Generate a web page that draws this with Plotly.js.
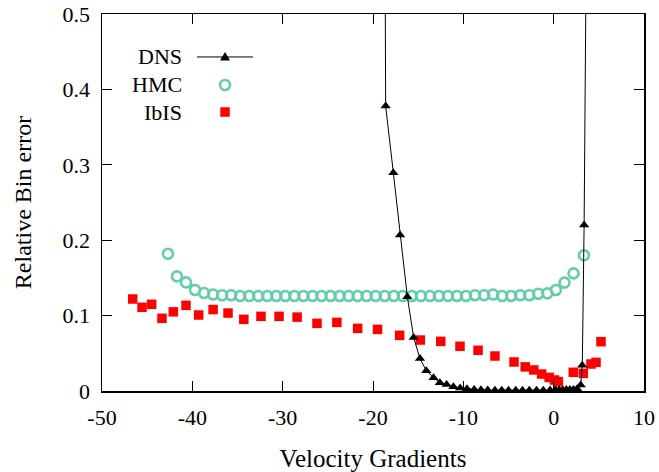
<!DOCTYPE html>
<html>
<head>
<meta charset="utf-8">
<script src="https://cdn.plot.ly/plotly-3.0.1.min.js"></script>
<style>html,body{margin:0;padding:0;background:#fff;}#chart{width:659px;height:472px;}</style>
</head>
<body>
<div id="chart"></div>
<script>
// DNS series
const dnsX = [-19.4, -18.6, -17.75, -17.0, -16.2, -15.5, -14.8, -14.1, -13.3, -12.6, -11.85, -11.1, -10.35, -9.6, -8.8, -8.05, -7.3, -6.5, -5.75, -5.0, -4.2, -3.45, -2.7, -1.9, -1.15, -0.4, 0.2, 0.6, 1.0, 1.4, 1.8, 2.2, 2.6, 2.99, 3.17, 3.37, 4.2];
const dnsY = [3.0, 0.378, 0.2895, 0.207, 0.125, 0.071, 0.043, 0.027, 0.0177, 0.011, 0.0085, 0.0058, 0.004, 0.003, 0.002, 0.0015, 0.0012, 0.001, 0.001, 0.001, 0.001, 0.001, 0.001, 0.001, 0.001, 0.0012, 0.0015, 0.0015, 0.0015, 0.002, 0.002, 0.002, 0.003, 0.008, 0.034, 0.22, 1.5];

// HMC series
const hmcX = [-42.7, -41.7, -40.7, -39.7, -38.7, -37.7, -36.7, -35.7, -34.7, -33.7, -32.7, -31.7, -30.7, -29.7, -28.7, -27.7, -26.7, -25.7, -24.7, -23.7, -22.7, -21.7, -20.7, -19.7, -18.7, -17.7, -16.7, -15.7, -14.7, -13.7, -12.7, -11.7, -10.7, -9.7, -8.7, -7.7, -6.7, -5.7, -4.7, -3.7, -2.7, -1.7, -0.7, 0.25, 1.2, 2.2, 3.35];
const hmcY = [0.182, 0.152, 0.144, 0.134, 0.130, 0.128, 0.127, 0.127, 0.126, 0.126, 0.126, 0.126, 0.126, 0.126, 0.126, 0.126, 0.126, 0.126, 0.126, 0.126, 0.126, 0.126, 0.126, 0.126, 0.126, 0.126, 0.126, 0.126, 0.126, 0.126, 0.126, 0.126, 0.126, 0.126, 0.127, 0.127, 0.128, 0.126, 0.126, 0.127, 0.127, 0.129, 0.1295, 0.134, 0.1437, 0.156, 0.18];

// IbIS series
const ibisX = [-46.6, -45.57, -44.5, -43.36, -42.1, -40.7, -39.3, -37.7, -36.05, -34.3, -32.4, -30.4, -28.4, -26.2, -24.0, -21.7, -19.5, -17.05, -14.76, -12.5, -10.37, -8.37, -6.5, -4.39, -3.15, -2.2, -1.33, -0.5, 0.08, 0.52, 2.17, 3.28, 4.13, 4.69, 5.24];
const ibisY = [0.122, 0.111, 0.115, 0.0964, 0.105, 0.1136, 0.1008, 0.108, 0.1034, 0.095, 0.099, 0.099, 0.098, 0.0897, 0.091, 0.083, 0.0817, 0.0738, 0.0676, 0.0658, 0.0593, 0.054, 0.0464, 0.0385, 0.032, 0.0279, 0.0225, 0.018, 0.0146, 0.0124, 0.0248, 0.0234, 0.0358, 0.038, 0.0654];

// Axis ticks
const xTickVals = [-50, -40, -30, -20, -10, 0, 10];
const xTickText = ['-50', '-40', '-30', '-20', '-10', '0', '10'];
const yTickVals = [0, 0.1, 0.2, 0.3, 0.4, 0.5];
const yTickText = ['0', '0.1', '0.2', '0.3', '0.4', '0.5'];

const seriesNames = ['DNS', 'HMC', 'IbIS'];
const hmcColor = '#66cdaa';
const ibisColor = '#ff0000';
const font = 'Liberation Serif, Times New Roman, serif';

const traces = [
  {x: ibisX, y: ibisY, name: seriesNames[2], type: 'scatter', mode: 'markers',
   marker: {symbol: 'square', size: 9.5, color: ibisColor, line: {width: 0}}, cliponaxis: true},
  {x: hmcX, y: hmcY, name: seriesNames[1], type: 'scatter', mode: 'markers',
   marker: {symbol: 'circle-open', size: 10, color: hmcColor, line: {width: 2.6, color: hmcColor}}, cliponaxis: true},
  {x: dnsX, y: dnsY, name: seriesNames[0], type: 'scatter', mode: 'lines+markers',
   line: {color: '#000', width: 1},
   marker: {symbol: 'triangle-up', size: 9, color: '#000'}, cliponaxis: true}
];

// legend placement (paper coords)
const lgTextX = 0.1513, lgSymX = 0.227, lgLine0 = 0.1753, lgLine1 = 0.2786;
const lgY = [0.886, 0.8117, 0.740];

const shapes = [
  {type: 'line', xref: 'paper', yref: 'paper', x0: lgLine0, x1: lgLine1, y0: lgY[0], y1: lgY[0], line: {color: '#000', width: 1}},
  {type: 'path', xref: 'paper', yref: 'paper', xsizemode: 'pixel', ysizemode: 'pixel', xanchor: lgSymX, yanchor: lgY[0],
   path: 'M -5,-3.5 L 5,-3.5 L 0,5 Z', fillcolor: '#000', line: {width: 0}},
  {type: 'circle', xref: 'paper', yref: 'paper', xsizemode: 'pixel', ysizemode: 'pixel', xanchor: lgSymX, yanchor: lgY[1],
   x0: -5, x1: 5, y0: -5, y1: 5, line: {color: hmcColor, width: 2.6}},
  {type: 'rect', xref: 'paper', yref: 'paper', xsizemode: 'pixel', ysizemode: 'pixel', xanchor: lgSymX, yanchor: lgY[2],
   x0: -4.75, x1: 4.75, y0: -4.75, y1: 4.75, fillcolor: ibisColor, line: {width: 0}}
];

const annotations = seriesNames.map((n, i) => ({
  text: n, xref: 'paper', yref: 'paper', x: lgTextX, y: lgY[i], xanchor: 'right', yanchor: 'middle',
  showarrow: false, font: {family: font, size: 22, color: '#000'}
}));

const axisCommon = {
  ticks: 'inside', ticklen: 10, tickwidth: 1, tickcolor: '#000',
  showline: true, linecolor: '#000', linewidth: 1.5, mirror: 'ticks',
  showgrid: false, zeroline: false,
  tickfont: {family: font, size: 22, color: '#000'}
};

const layout = {
  width: 659, height: 472,
  margin: {l: 102, r: 15, t: 14, b: 81},
  paper_bgcolor: '#fff', plot_bgcolor: '#fff',
  showlegend: false,
  xaxis: Object.assign({}, axisCommon, {
    range: [-50, 10], tickmode: 'array', tickvals: xTickVals, ticktext: xTickText,
    ticklabelstandoff: 6,
    title: {text: 'Velocity Gradients', font: {family: font, size: 25, color: '#000'}, standoff: 24}
  }),
  yaxis: Object.assign({}, axisCommon, {
    range: [0, 0.5], tickmode: 'array', tickvals: yTickVals, ticktext: yTickText,
    ticklabelstandoff: 6,
    title: {text: 'Relative Bin error', font: {family: font, size: 24, color: '#000'}, standoff: 24}
  }),
  shapes: shapes,
  annotations: annotations
};

Plotly.newPlot('chart', traces, layout, {displayModeBar: false, staticPlot: true});
</script>
</body>
</html>
